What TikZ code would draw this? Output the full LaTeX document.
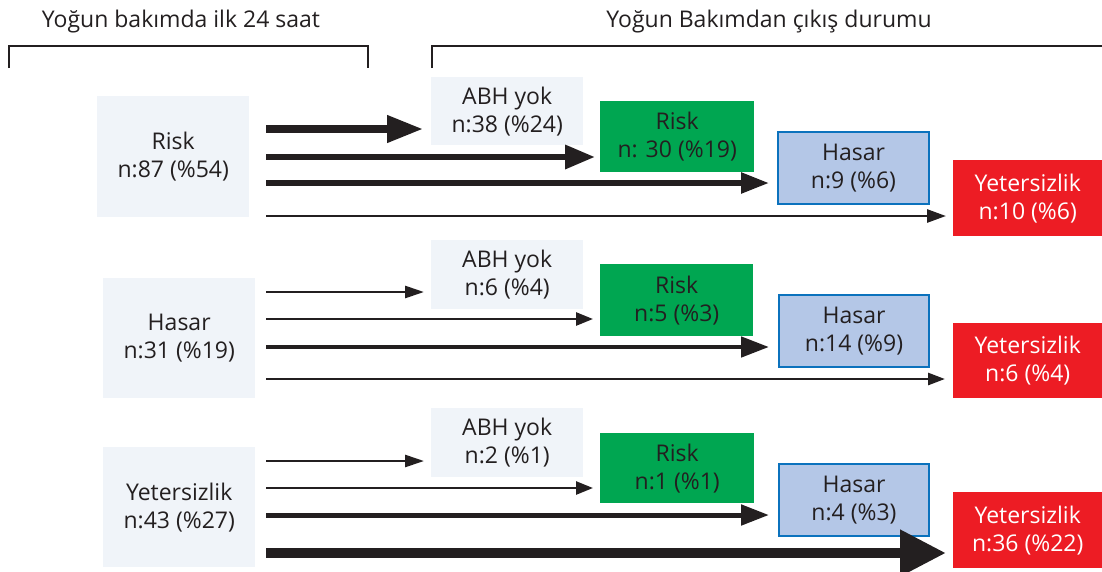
\documentclass[tikz,border=0pt]{standalone}
\usepackage{fontspec}
\setmainfont{Open Sans}
\usetikzlibrary{arrows.meta}
\definecolor{ink}{HTML}{231F20}
\definecolor{pale}{HTML}{F0F4F9}
\definecolor{okgreen}{HTML}{00A651}
\definecolor{lblue}{HTML}{B4C7E7}
\definecolor{bblue}{HTML}{0B72BD}
\definecolor{alarm}{HTML}{ED1C24}
\tikzset{
  txt/.style={font=\fontsize{23}{28}\selectfont, text=ink, align=center, inner sep=0pt},
  box/.style={txt, anchor=north west},
  srcbox/.style={box, fill=pale},
  nonebox/.style={box, fill=pale},
  riskbox/.style={box, fill=okgreen},
  dmgbox/.style={box, fill=lblue, draw=bblue, line width=2pt},
  failbox/.style={box, fill=alarm, text=white},
  arr/.style n args={3}{draw=ink, line width=#1, -{Triangle[length=#2pt,width=#3pt]}, shorten >=7pt},
  brk/.style={draw=ink, line width=2.5pt}
}
\begin{document}
\begin{tikzpicture}[x=1pt,y=-1pt]
\useasboundingbox (0,0) rectangle (1102,571);

% column headings and brackets
\node[txt, anchor=base] (h1) at (181,27) {Yoğun bakımda ilk 24 saat};
\node[txt, anchor=base] (h2) at (769,27) {Yoğun Bakımdan çıkış durumu};
\draw[brk] (9,68) -- (9,46) -- (368,46) -- (368,68);
\draw[brk] (432,68) -- (432,46) -- (1102,46);

% group 1: Risk
\node[srcbox, minimum width=152pt, minimum height=121pt] (s1) at (97,96) {Risk\\n:87 (\%54)};
\node[nonebox, minimum width=152pt, minimum height=68pt] (n1) at (431,77) {ABH yok\\n:38 (\%24)};
\node[riskbox, minimum width=154pt, minimum height=71pt] (r1) at (600,101) {Risk\\n: 30 (\%19)};
\node[dmgbox, minimum width=151pt, minimum height=72pt] (d1) at (777,131) {Hasar\\n:9 (\%6)};
\node[failbox, minimum width=149pt, minimum height=76pt] (f1) at (953,160) {Yetersizlik\\n:10 (\%6)};
\coordinate (g1a) at (266,129);
\coordinate (g1b) at (266,157);
\coordinate (g1c) at (266,183);
\coordinate (g1d) at (266,216);
\draw[arr={7.3pt}{36}{26}, shorten >=8pt] (g1a) -- (g1a -| n1.west);
\draw[arr={6.3pt}{30}{23}, shorten >=5pt] (g1b) -- (g1b -| r1.west);
\draw[arr={5.5pt}{28}{20}, shorten >=8pt] (g1c) -- (g1c -| d1.west);
\draw[arr={2.7pt}{19}{13}] (g1d) -- (g1d -| f1.west);

% group 2: Hasar
\node[srcbox, minimum width=152pt, minimum height=120pt] (s2) at (103,278) {Hasar\\n:31 (\%19)};
\node[nonebox, minimum width=152pt, minimum height=69pt] (n2) at (431,240) {ABH yok\\n:6 (\%4)};
\node[riskbox, minimum width=153pt, minimum height=72pt] (r2) at (600,264) {Risk\\n:5 (\%3)};
\node[dmgbox, minimum width=150pt, minimum height=72pt] (d2) at (778,294) {Hasar\\n:14 (\%9)};
\node[failbox, minimum width=149pt, minimum height=75pt] (f2) at (953,323) {Yetersizlik\\n:6 (\%4)};
\coordinate (g2a) at (266,292);
\coordinate (g2b) at (266,319);
\coordinate (g2c) at (266,347);
\coordinate (g2d) at (266,379);
\draw[arr={2.7pt}{19}{12}] (g2a) -- (g2a -| n2.west);
\draw[arr={2.7pt}{17}{13}] (g2b) -- (g2b -| r2.west);
\draw[arr={4.7pt}{28}{20}, shorten >=9pt] (g2c) -- (g2c -| d2.west);
\draw[arr={2.8pt}{17}{12}, shorten >=8pt] (g2d) -- (g2d -| f2.west);

% group 3: Yetersizlik
\node[srcbox, minimum width=152pt, minimum height=120pt] (s3) at (103,447) {Yetersizlik\\n:43 (\%27)};
\node[nonebox, minimum width=152pt, minimum height=69pt] (n3) at (431,408) {ABH yok\\n:2 (\%1)};
\node[riskbox, minimum width=154pt, minimum height=70pt] (r3) at (600,433) {Risk\\n:1 (\%1)};
\node[dmgbox, minimum width=150pt, minimum height=72pt] (d3) at (778,463) {Hasar\\n:4 (\%3)};
\node[failbox, minimum width=149pt, minimum height=76pt] (f3) at (953,492) {Yetersizlik\\n:36 (\%22)};
\coordinate (g3a) at (266,461);
\coordinate (g3b) at (266,488);
\coordinate (g3c) at (266,515);
\coordinate (g3d) at (266,553);
\draw[arr={2.6pt}{19}{12}] (g3a) -- (g3a -| n3.west);
\draw[arr={2.6pt}{17}{13}] (g3b) -- (g3b -| r3.west);
\draw[arr={5pt}{28}{20}, shorten >=9pt] (g3c) -- (g3c -| d3.west);
\draw[arr={10.7pt}{46}{44}] (g3d) -- (g3d -| f3.west);
\end{tikzpicture}
\end{document}
